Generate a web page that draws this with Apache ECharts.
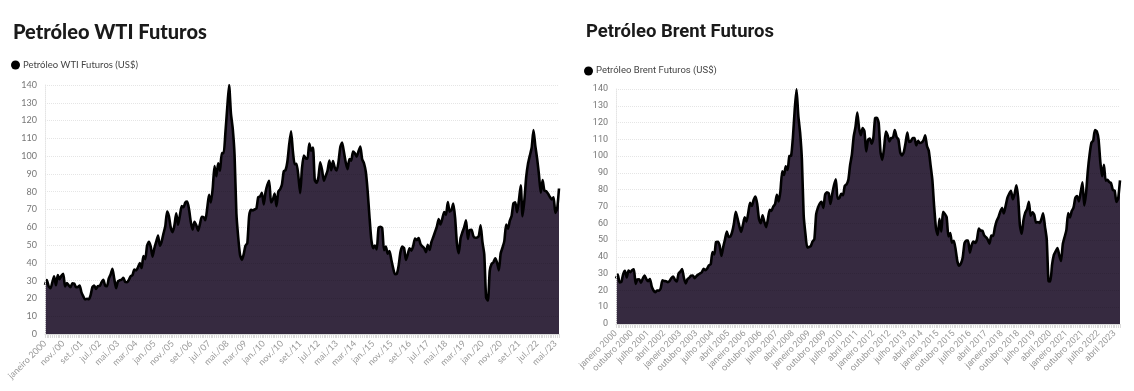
<!DOCTYPE html>
<html><head><meta charset="utf-8">
<script src="https://cdn.jsdelivr.net/npm/echarts@6/dist/echarts.min.js"></script>
<style>html,body{margin:0;padding:0;background:#fff}#c{width:1134px;height:391px}</style>
</head><body><div id="c"></div>
<script>
// ---- data (monthly, Jan 2000 .. Jul 2023) ----
const startYear = 2000;
const monthAbbr = ['jan.','fev.','mar.','abr.','mai.','jun.','jul.','ago.','set.','out.','nov.','dez.'];
const monthFull = ['janeiro','fevereiro','março','abril','maio','junho','julho','agosto','setembro','outubro','novembro','dezembro'];
const yTicks = {min: 0, max: 140, interval: 10};

const wtiValues = [
27.6,30.4,26.9,25.7,29.0,32.5,27.4,33.1,30.8,32.7,33.8,26.8,
28.7,27.4,26.3,28.5,28.4,26.3,26.4,27.2,23.4,21.2,19.4,19.8,
19.5,21.7,26.3,27.3,25.3,26.9,27.0,29.0,30.5,27.2,26.9,31.2,
33.5,36.6,31.0,25.8,29.6,30.2,30.5,31.6,29.2,29.1,30.4,32.5,
33.1,36.2,35.8,37.4,39.9,37.1,43.8,42.1,49.6,51.8,49.1,43.5,
48.2,51.8,55.4,49.7,52.0,56.5,60.6,68.9,66.2,59.8,57.3,61.0,
67.9,61.4,66.6,71.9,71.3,73.9,74.4,70.3,62.9,58.7,63.1,61.1,
58.1,61.8,65.9,65.7,64.0,70.7,78.2,74.0,81.7,94.5,88.7,96.0,
91.8,101.8,101.6,113.5,127.4,140.0,124.1,115.5,100.6,67.8,54.4,44.6,
41.7,44.8,49.7,51.1,66.3,69.9,69.5,70.0,70.6,77.0,77.3,79.4,
72.9,79.7,83.8,86.2,74.0,75.6,79.0,71.9,80.0,81.4,84.1,91.4,
92.2,97.0,106.7,113.9,102.7,95.4,95.7,88.8,79.2,93.2,100.4,98.8,
98.5,107.1,103.0,104.9,86.5,85.0,88.1,96.5,92.2,86.2,88.9,91.8,
97.5,92.1,97.2,93.5,92.0,96.6,105.0,107.7,102.3,96.4,92.7,98.4,
97.5,102.6,101.6,99.7,102.7,105.4,98.2,96.0,91.2,80.5,66.2,53.3,
48.2,49.8,47.6,59.6,60.3,59.5,47.1,49.2,45.1,46.6,41.7,37.0,
33.6,33.8,38.3,45.9,49.1,48.3,41.6,44.7,48.2,46.9,49.4,53.7,
52.8,54.0,50.6,49.3,48.3,46.0,50.2,47.2,51.7,54.4,57.4,60.4,
64.7,61.6,64.9,68.6,67.0,74.2,68.8,69.8,73.3,65.3,50.9,45.4,
53.8,57.2,60.1,63.9,53.5,58.5,58.6,55.1,54.1,54.2,55.2,61.1,
51.6,44.8,20.5,18.8,35.5,39.3,40.3,42.6,40.2,35.8,45.3,48.5,
52.2,61.5,59.2,63.6,66.3,73.5,74.0,68.5,75.0,83.6,66.2,75.2,
88.2,95.7,100.3,104.7,114.7,105.8,98.6,89.6,79.5,86.5,80.6,80.3,
78.9,77.1,75.7,76.8,68.1,70.6,81.8
];

const brentValues = [
27.1,29.5,24.8,25.0,29.6,31.7,27.7,31.9,30.9,32.0,32.6,23.9,
26.6,26.7,24.6,27.1,28.8,26.7,25.5,26.8,22.3,20.0,19.0,20.0,
19.9,21.2,26.0,25.6,25.5,24.9,25.7,27.4,28.3,26.4,25.3,30.0,
31.2,32.7,27.4,24.2,26.7,27.6,28.8,28.9,27.3,28.5,29.4,30.1,
30.8,32.9,32.0,33.0,35.0,35.6,42.9,41.5,48.9,49.0,46.7,40.5,
45.9,50.4,55.1,51.8,52.1,54.9,59.9,66.8,62.9,58.3,54.9,58.9,
63.5,61.0,66.2,72.2,70.3,73.9,76.0,71.6,62.6,60.0,64.7,60.9,
57.7,62.5,68.1,67.4,70.0,71.4,77.0,73.0,79.2,91.0,88.8,93.9,
91.8,100.1,100.3,111.4,127.8,139.8,124.1,114.1,98.2,64.9,53.5,45.6,
45.9,46.4,49.2,50.6,65.4,69.3,71.7,72.8,69.1,77.0,78.5,77.9,
71.5,77.6,82.7,86.2,74.6,75.0,77.6,76.7,82.3,83.2,85.9,94.8,
101.0,111.8,117.4,125.9,116.7,112.5,116.7,114.9,102.8,109.6,110.5,107.4,
111.0,122.7,122.9,119.5,102.4,97.8,104.9,114.6,112.4,108.7,110.9,111.1,
115.6,111.4,110.0,102.4,100.4,102.2,107.7,114.0,108.4,108.8,110.8,110.8,
106.4,109.1,107.8,108.1,109.4,112.4,106.0,103.2,94.7,85.9,70.2,57.3,
53.0,62.6,55.1,66.8,65.6,63.6,52.2,54.2,48.4,49.6,44.6,37.3,
34.7,36.0,39.6,48.1,49.7,49.7,42.5,47.0,49.1,48.3,50.5,56.8,
55.7,55.6,52.8,51.7,50.3,47.9,52.7,52.4,57.5,61.4,63.6,66.9,
69.1,65.8,70.3,75.2,77.6,79.4,74.3,77.4,82.7,75.5,58.7,53.8,
61.9,66.3,68.4,72.8,64.5,66.6,65.2,60.4,60.8,60.2,62.4,66.0,
58.2,50.5,25.5,25.3,35.3,41.2,43.3,45.3,41.0,37.5,47.6,51.8,
55.9,66.1,63.5,67.3,69.3,75.1,76.3,73.0,78.5,84.4,70.6,77.8,
91.2,101.0,107.9,109.3,115.6,114.8,110.0,96.5,88.0,94.8,85.4,85.9,
84.5,83.9,79.8,79.5,72.7,74.9,85.6
];

// category labels built from the month-name arrays
const wtiCats = wtiValues.map((_, i) => {
  const y = startYear + Math.floor(i / 12), m = i % 12;
  return i === 0 ? monthFull[0] + ' ' + y : monthAbbr[m] + '/' + String(y).slice(2);
});
const brentCats = brentValues.map((_, i) => {
  const y = startYear + Math.floor(i / 12), m = i % 12;
  return monthFull[m] + ' ' + y;
});

const AREA = '#362a40';
const chart = echarts.init(document.getElementById('c'), null, {renderer: 'canvas'});

function yAxisCfg(gridIndex, font) {
  return {
    type: 'value', gridIndex, min: yTicks.min, max: yTicks.max, interval: yTicks.interval, z: 5,
    axisLabel: {fontSize: 9, color: '#777', margin: 8, fontFamily: font},
    axisLine: {show: true, lineStyle: {color: '#e4e4e4', type: 'dotted'}},
    axisTick: {show: false},
    splitLine: {show: true, lineStyle: {color: 'rgba(0,0,0,0.10)', type: 'dotted', width: 1}}
  };
}
function xAxisCfg(gridIndex, cats, interval, font) {
  return {
    type: 'category', gridIndex, data: cats, boundaryGap: false, z: 5,
    axisLine: {show: true, lineStyle: {color: '#d8d8d8'}},
    axisTick: {show: true, interval: 0, length: 4, lineStyle: {color: '#dcdcdc'}},
    axisLabel: {interval: interval, rotate: 45, fontSize: 9, color: '#999', margin: 8, fontFamily: font},
    splitLine: {show: false}
  };
}

chart.setOption({
  animation: false,
  title: [
    {text: 'Petróleo WTI Futuros', left: 8, top: 18,
     textStyle: {fontFamily: 'Lato', fontWeight: 900, fontSize: 20, color: '#1a1a1a'}},
    {text: 'Petróleo Brent Futuros', left: 581, top: 18,
     textStyle: {fontFamily: 'Roboto', fontWeight: 'bold', fontSize: 18.5, color: '#1a1a1a'}}
  ],
  legend: [
    {data: ['Petróleo WTI Futuros (US$)'], left: 6, top: 55, icon: 'circle', itemWidth: 9, itemHeight: 9, itemGap: 4,
     textStyle: {fontSize: 9.5, color: '#444', fontFamily: 'Lato', padding: [0,0,0,-2]}},
    {data: ['Petróleo Brent Futuros (US$)'], left: 579, top: 61, icon: 'circle', itemWidth: 9, itemHeight: 9, itemGap: 4,
     textStyle: {fontSize: 9.5, color: '#444', fontFamily: 'Roboto', padding: [0,0,0,-2]}}
  ],
  grid: [
    {left: 45, right: 575, top: 85, bottom: 57},
    {left: 616, right: 14, top: 89, bottom: 67}
  ],
  xAxis: [xAxisCfg(0, wtiCats, 9, 'Lato'), xAxisCfg(1, brentCats, 8, 'Roboto')],
  yAxis: [yAxisCfg(0, 'Lato'), yAxisCfg(1, 'Roboto')],
  series: [
    {name: 'Petróleo WTI Futuros (US$)', type: 'line', xAxisIndex: 0, yAxisIndex: 0, data: wtiValues,
     symbol: 'none', smooth: 0.2, itemStyle: {color: '#000'},
     lineStyle: {color: '#000', width: 2.6, join: 'round'}, areaStyle: {color: AREA, opacity: 1}},
    {name: 'Petróleo Brent Futuros (US$)', type: 'line', xAxisIndex: 1, yAxisIndex: 1, data: brentValues,
     symbol: 'none', smooth: 0.2, itemStyle: {color: '#000'},
     lineStyle: {color: '#000', width: 2.6, join: 'round'}, areaStyle: {color: AREA, opacity: 1}}
  ]
});
</script></body></html>
